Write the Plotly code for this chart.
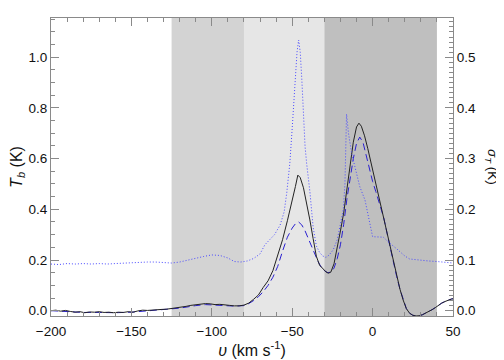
import plotly.graph_objects as go

# Velocity regions (km/s) and their shading
region_start = [-125, -80, -30]
region_end = [-80, -30, 40]
region_color = ["#d3d3d3", "#e6e6e6", "#bfbfbf"]

# Observed brightness temperature (black solid)
v_obs = [-200, -197, -194, -191, -188, -185, -182, -179, -176, -173, -170, -167, -164, -161,
         -158, -155, -152, -149, -146, -143, -140, -137, -134, -131, -128, -125, -122, -119,
         -116, -113, -110, -107, -104, -101, -98, -95, -92, -89, -86, -83, -80, -77, -74, -71,
         -68, -65, -62, -59, -56, -53, -50, -48, -46.5, -45, -43, -41, -39, -37, -35, -33, -31,
         -29, -27.5, -26, -24, -22, -20, -18, -16, -14, -12, -10, -8.5, -7, -5, -3, -1, 1, 3, 5,
         7, 9, 11, 13, 15, 17, 19, 21, 23, 25, 27, 29, 31, 33, 35, 37, 39, 41, 43, 45, 47, 49, 50]
tb_obs = [0.000, 0.002, -0.002, 0.001, -0.003, -0.006, -0.004, -0.008, -0.005, -0.006, -0.004,
          -0.007, -0.006, -0.008, -0.006, -0.007, -0.004, -0.006, -0.001, 0.002, 0.001, 0.003,
          0.004, 0.005, 0.006, 0.008, 0.010, 0.014, 0.017, 0.021, 0.024, 0.026, 0.028, 0.027,
          0.024, 0.025, 0.022, 0.021, 0.019, 0.019, 0.022, 0.030, 0.045, 0.062, 0.092, 0.118,
          0.158, 0.215, 0.280, 0.355, 0.430, 0.490, 0.535, 0.525, 0.485, 0.425, 0.358, 0.285,
          0.215, 0.180, 0.165, 0.153, 0.148, 0.152, 0.185, 0.245, 0.315, 0.385, 0.480, 0.575,
          0.665, 0.725, 0.740, 0.728, 0.690, 0.640, 0.585, 0.530, 0.475, 0.420, 0.365, 0.305,
          0.245, 0.190, 0.134, 0.085, 0.042, 0.008, -0.010, -0.018, -0.021, -0.020, -0.016,
          -0.010, -0.004, 0.004, 0.012, 0.022, 0.030, 0.036, 0.042, 0.046, 0.047]

# Model brightness temperature (blue dashed)
v_mod = [-200, -190, -180, -170, -160, -150, -140, -130, -120, -110, -104, -98, -92, -86, -80,
         -77, -74, -71, -68, -65, -62, -59, -56, -53, -50, -48, -46, -44, -42, -40, -38, -36,
         -34, -32, -30, -28, -26, -24, -22, -20, -18, -16, -14, -12, -10, -8, -6, -4, -2, 0, 2,
         4, 5.7, 7, 9, 11, 13, 15, 17, 19, 21, 23, 25, 27, 29, 31, 33, 35, 37, 39, 41, 43, 45,
         47, 49, 50]
tb_mod = [0.000, -0.003, -0.007, -0.007, -0.008, -0.006, 0.000, 0.004, 0.010, 0.020, 0.024,
          0.022, 0.020, 0.018, 0.020, 0.028, 0.040, 0.055, 0.075, 0.100, 0.132, 0.175, 0.235,
          0.290, 0.326, 0.343, 0.350, 0.338, 0.315, 0.285, 0.255, 0.222, 0.195, 0.172, 0.158,
          0.150, 0.152, 0.168, 0.205, 0.260, 0.340, 0.440, 0.520, 0.600, 0.660, 0.685, 0.665,
          0.610, 0.560, 0.510, 0.470, 0.430, 0.400, 0.365, 0.305, 0.245, 0.190, 0.134, 0.085,
          0.042, 0.008, -0.010, -0.018, -0.021, -0.020, -0.016, -0.010, -0.004, 0.004, 0.012,
          0.022, 0.030, 0.036, 0.042, 0.046, 0.047]

# Dispersion sigma_T (blue dotted, right axis)
v_sig = [-200, -195, -190, -185, -180, -175, -170, -165, -160, -155, -150, -145, -140, -135,
         -130, -125, -120, -115, -110, -105, -100, -95, -90, -86, -82, -78, -74, -70, -67, -64,
         -61, -57.5, -55, -53.4, -51.5, -50, -48.3, -47, -46, -45, -44, -42, -41, -39, -37,
         -35, -33, -31, -29, -27, -24.5, -22, -20.3, -18.2, -17.2, -16.2, -15, -13, -11, -8,
         -4.7, -2, 0, 6.7, 10, 15, 20, 23, 30, 35, 40, 45, 50]
sig_t = [0.092, 0.091, 0.093, 0.092, 0.093, 0.092, 0.093, 0.092, 0.093, 0.094, 0.094, 0.095,
         0.096, 0.096, 0.095, 0.094, 0.096, 0.100, 0.104, 0.107, 0.110, 0.109, 0.104, 0.097,
         0.096, 0.098, 0.103, 0.112, 0.130, 0.140, 0.150, 0.169, 0.195, 0.232, 0.290, 0.360,
         0.442, 0.510, 0.534, 0.510, 0.455, 0.324, 0.290, 0.235, 0.165, 0.128, 0.115, 0.108,
         0.105, 0.110, 0.120, 0.140, 0.166, 0.200, 0.250, 0.388, 0.350, 0.310, 0.284, 0.245,
         0.218, 0.180, 0.146, 0.145, 0.135, 0.122, 0.108, 0.102, 0.099, 0.098, 0.097, 0.095,
         0.094]

fig = go.Figure()

shapes = []
for s, e, c in zip(region_start, region_end, region_color):
    shapes.append(dict(type="rect", xref="x", yref="paper", x0=s, x1=e, y0=0, y1=1,
                       fillcolor=c, line=dict(width=0), layer="below"))

fig.add_trace(go.Scatter(x=v_sig, y=sig_t, mode="lines", yaxis="y2",
                         line=dict(color="#4a4aff", width=1.0, dash="1px,2px"), showlegend=False))
fig.add_trace(go.Scatter(x=v_mod, y=tb_mod, mode="lines",
                         line=dict(color="#2a20d0", width=1.0, dash="7px,4px"), showlegend=False))
fig.add_trace(go.Scatter(x=v_obs, y=tb_obs, mode="lines",
                         line=dict(color="#222222", width=1.0), showlegend=False))

axis_col = "#8a8a8a"
font = dict(family="Liberation Sans, Arial, sans-serif", size=13.5, color="#111111")

# The page body adds an 8px offset, so the figure is sized to fit the 504x360 window.
fig.update_layout(
    width=496, height=352,
    margin=dict(l=43, r=51, t=10, b=44, autoexpand=False),
    paper_bgcolor="white", plot_bgcolor="white",
    font=font,
    shapes=shapes,
    xaxis=dict(range=[-200, 50], tickmode="linear", tick0=-200, dtick=50, ticks="inside",
               ticklen=8, tickcolor=axis_col, automargin=False, ticklabelstandoff=3,
               showline=True, linecolor=axis_col, linewidth=1, mirror="ticks", showgrid=False,
               zeroline=False,
               minor=dict(tick0=-200, dtick=10, ticks="inside", ticklen=4, tickcolor=axis_col,
                          showgrid=False),
               title=dict(text="<i>υ</i> (km s<sup>-1</sup>)", standoff=1)),
    yaxis=dict(range=[-0.021, 1.155], tickmode="linear", tick0=0, dtick=0.2, tickformat=".1f",
               ticks="inside", automargin=False,
               ticklen=8, tickcolor=axis_col, showline=True, linecolor=axis_col, linewidth=1,
               showgrid=False, zeroline=False,
               minor=dict(tick0=0, dtick=0.05, ticks="inside", ticklen=4, tickcolor=axis_col,
                          showgrid=False),
               title=dict(text="<i>T</i><sub><i>b</i></sub> (K)", standoff=6)),
    yaxis2=dict(range=[-0.0105, 0.5775], tickmode="linear", tick0=0, dtick=0.1,
                tickformat=".1f", overlaying="y", automargin=False,
                side="right", ticks="inside", ticklen=8, tickcolor=axis_col, showline=True,
                linecolor=axis_col, linewidth=1, showgrid=False, zeroline=False,
                minor=dict(tick0=0, dtick=0.01, ticks="inside", ticklen=4, tickcolor=axis_col,
                           showgrid=False)),
    annotations=[dict(text="<i>σ</i><sub><i>T</i></sub> (K)", xref="paper", yref="paper",
                      x=1.0, xshift=39, y=0.5, textangle=90, showarrow=False,
                      font=font, xanchor="center", yanchor="middle")],
)

fig.write_html("out.html")
